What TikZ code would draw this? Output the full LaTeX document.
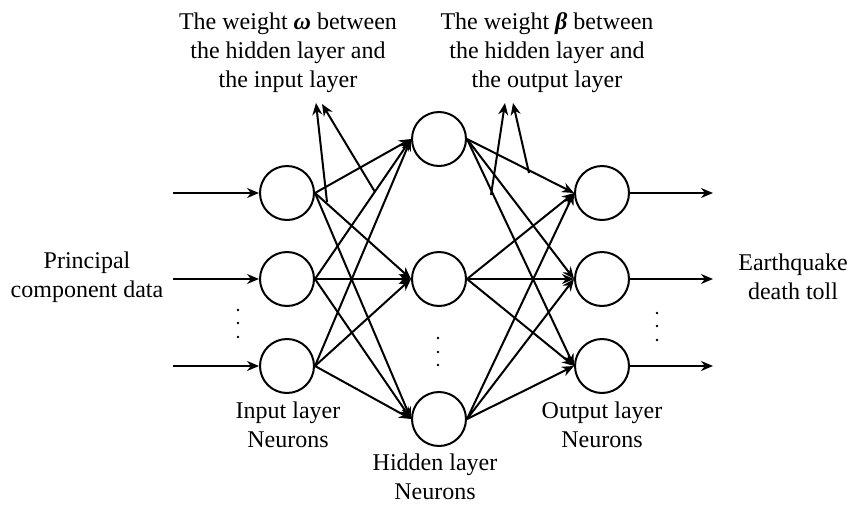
\documentclass[tikz,border=0pt]{standalone}
\usepackage{fontspec}
\setmainfont{Liberation Serif}
\usetikzlibrary{arrows.meta}
\begin{document}
\begin{tikzpicture}[x=0.5pt,y=-0.5pt,
  neuron/.style={circle,draw,line width=1pt,minimum size=27pt,inner sep=0pt},
  edge/.style={line width=1pt,-{Stealth[length=6pt,width=5pt]}},
  lbl/.style={align=center,font=\fontsize{12}{14.5}\selectfont,inner sep=0pt},
  dotmark/.style={fill=black}]
\useasboundingbox (0,0) rectangle (847,504);
% neurons
\node[neuron] (i1) at (287,193) {};
\node[neuron] (i2) at (287,279) {};
\node[neuron] (i3) at (287,366) {};
\node[neuron] (h1) at (439,139) {};
\node[neuron] (h2) at (439,279) {};
\node[neuron] (h3) at (439,419) {};
\node[neuron] (o1) at (602,193) {};
\node[neuron] (o2) at (602,279) {};
\node[neuron] (o3) at (602,366) {};
% input / output arrows
\coordinate (a1) at (173,193);
\coordinate (a2) at (173,279);
\coordinate (a3) at (173,366);
\coordinate (b1) at (713,193);
\coordinate (b2) at (713,279);
\coordinate (b3) at (713,366);
\foreach \k in {1,2,3}{
  \draw[edge] (a\k) -- (i\k.west);
  \draw[edge] (o\k.east) -- (b\k);
}
% layer connections
\foreach \i in {1,2,3}{
  \foreach \j in {1,2,3}{
    \draw[edge] (i\i.east) -- (h\j.west);
    \draw[edge] (h\i.east) -- (o\j.west);
  }
}
% annotation arrows
\coordinate (wt1) at (327,202);
\coordinate (wh1) at (316,103);
\coordinate (wt2) at (375,192);
\coordinate (wh2) at (322,104);
\coordinate (bt1) at (491,195);
\coordinate (bh1) at (505,103);
\coordinate (bt2) at (529,173);
\coordinate (bh2) at (513,103);
\draw[edge] (wt1) -- (wh1);
\draw[edge] (wt2) -- (wh2);
\draw[edge] (bt1) -- (bh1);
\draw[edge] (bt2) -- (bh2);
% dots
\foreach \y in {310,323,337}{\fill[dotmark] (238,\y) circle (1.3);}
\foreach \y in {338,352,365}{\fill[dotmark] (438,\y) circle (1.3);}
\foreach \y in {313,326,340}{\fill[dotmark] (657,\y) circle (1.3);}
% labels
\node[lbl] (wlab) at (288,53) {The weight \textbf{\textit{ω}} between\\the hidden layer and\\the input layer};
\node[lbl] (blab) at (547,53) {The weight \textbf{\textit{β}} between\\the hidden layer and\\the output layer};
\node[lbl] (inlab) at (87,277) {Principal\\component data};
\node[lbl] (outlab) at (793,277) {Earthquake\\death toll};
\node[lbl] (ilab) at (288,425) {Input layer\\Neurons};
\node[lbl] (hlab) at (435,477) {Hidden layer\\Neurons};
\node[lbl] (olab) at (602,425) {Output layer\\Neurons};
\end{tikzpicture}
\end{document}
